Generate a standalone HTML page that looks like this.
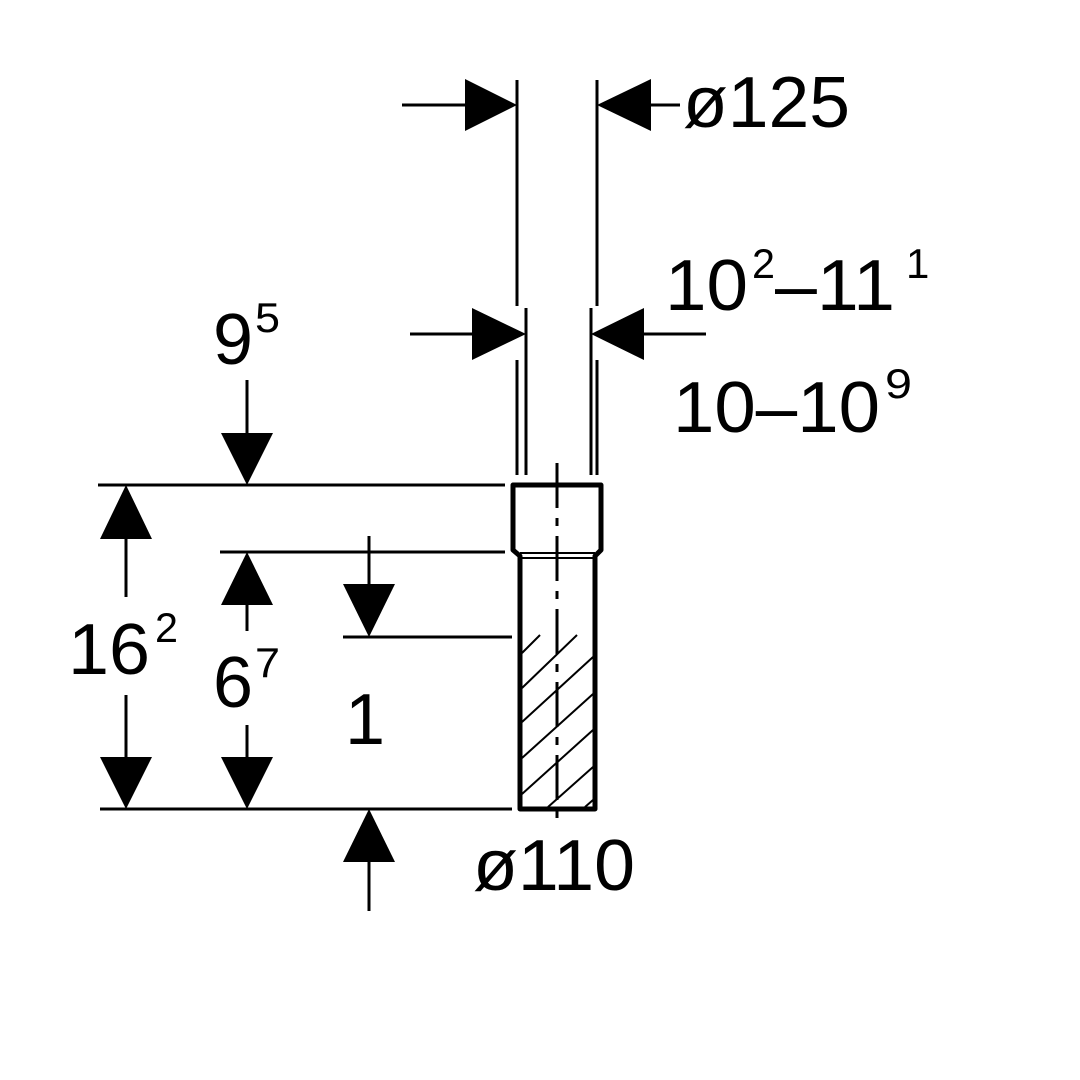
<!DOCTYPE html>
<html><head><meta charset="utf-8"><style>html,body{margin:0;padding:0;background:#fff}svg{display:block}</style></head>
<body>
<svg width="1080" height="1080" viewBox="0 0 1080 1080" xmlns="http://www.w3.org/2000/svg" font-family="Liberation Sans, sans-serif" fill="#000">
<g stroke="#000" stroke-width="3" fill="none">
<line x1="517" y1="80" x2="517" y2="306"/>
<line x1="597" y1="80" x2="597" y2="306"/>
<line x1="526" y1="308" x2="526" y2="475"/>
<line x1="591" y1="308" x2="591" y2="475"/>
<line x1="517" y1="360" x2="517" y2="475"/>
<line x1="597" y1="360" x2="597" y2="475"/>
<line x1="402" y1="105" x2="470" y2="105"/>
<line x1="645" y1="105" x2="680" y2="105"/>
<line x1="410" y1="334" x2="475" y2="334"/>
<line x1="640" y1="334" x2="706" y2="334"/>
<line x1="98" y1="485" x2="505" y2="485"/>
<line x1="220" y1="552" x2="505" y2="552"/>
<line x1="343" y1="637" x2="512" y2="637"/>
<line x1="100" y1="809" x2="512" y2="809"/>
<line x1="247" y1="380" x2="247" y2="440"/>
<line x1="126" y1="535" x2="126" y2="597"/>
<line x1="126" y1="695" x2="126" y2="760"/>
<line x1="247" y1="600" x2="247" y2="631"/>
<line x1="247" y1="725" x2="247" y2="760"/>
<line x1="369" y1="536" x2="369" y2="590"/>
<line x1="369" y1="858" x2="369" y2="911"/>
<path d="M513 485 H601 V550 L595 556 V809 H520 V556 L513 550 Z" stroke-width="5" stroke-linejoin="round"/>
<line x1="520" y1="553" x2="595" y2="553" stroke-width="2"/>
<line x1="520" y1="558" x2="595" y2="558" stroke-width="2"/>
<line x1="557" y1="463" x2="557" y2="820" stroke-width="3" stroke-dasharray="45,10,8,10"/>
<g stroke-width="2">
<line x1="522" y1="653" x2="540" y2="635"/>
<line x1="522" y1="688" x2="577" y2="635"/>
<line x1="522" y1="722" x2="593" y2="657"/>
<line x1="522" y1="758" x2="593" y2="694"/>
<line x1="522" y1="794" x2="593" y2="730"/>
<line x1="548" y1="807" x2="593" y2="767"/>
<line x1="585" y1="807" x2="593" y2="800"/>
</g>
</g>
<polygon points="517,105 465,79 465,131"/>
<polygon points="597,105 651,79 651,131"/>
<polygon points="526,334 472,308 472,360"/>
<polygon points="591,334 644,308 644,360"/>
<polygon points="247,485 221,433 273,433"/>
<polygon points="126,485 100,539 152,539"/>
<polygon points="126,809 100,757 152,757"/>
<polygon points="247,552 221,605 273,605"/>
<polygon points="247,809 221,757 273,757"/>
<polygon points="369,637 343,584 395,584"/>
<polygon points="369,809 343,862 395,862"/>
<g font-size="72">
<text x="683" y="127" textLength="167" lengthAdjust="spacingAndGlyphs">ø125</text>
<text x="665" y="310" textLength="83" lengthAdjust="spacingAndGlyphs">10</text>
<text x="752" y="278" font-size="42" textLength="23" lengthAdjust="spacingAndGlyphs">2</text>
<text x="775" y="310" textLength="120" lengthAdjust="spacingAndGlyphs">–11</text>
<text x="906" y="278" font-size="42">1</text>
<text x="673" y="432" textLength="207" lengthAdjust="spacingAndGlyphs">10–10</text>
<text x="885" y="398" font-size="42" textLength="27" lengthAdjust="spacingAndGlyphs">9</text>
<text x="213" y="364" textLength="40" lengthAdjust="spacingAndGlyphs">9</text>
<text x="255" y="332" font-size="42" textLength="25" lengthAdjust="spacingAndGlyphs">5</text>
<text x="68" y="674" textLength="82" lengthAdjust="spacingAndGlyphs">16</text>
<text x="155" y="642" font-size="42" textLength="23" lengthAdjust="spacingAndGlyphs">2</text>
<text x="213" y="707" textLength="40" lengthAdjust="spacingAndGlyphs">6</text>
<text x="255" y="677" font-size="42" textLength="25" lengthAdjust="spacingAndGlyphs">7</text>
<text x="345" y="744">1</text>
<text x="473" y="890" textLength="162" lengthAdjust="spacingAndGlyphs">ø110</text>
</g>
</svg>
</body></html>
